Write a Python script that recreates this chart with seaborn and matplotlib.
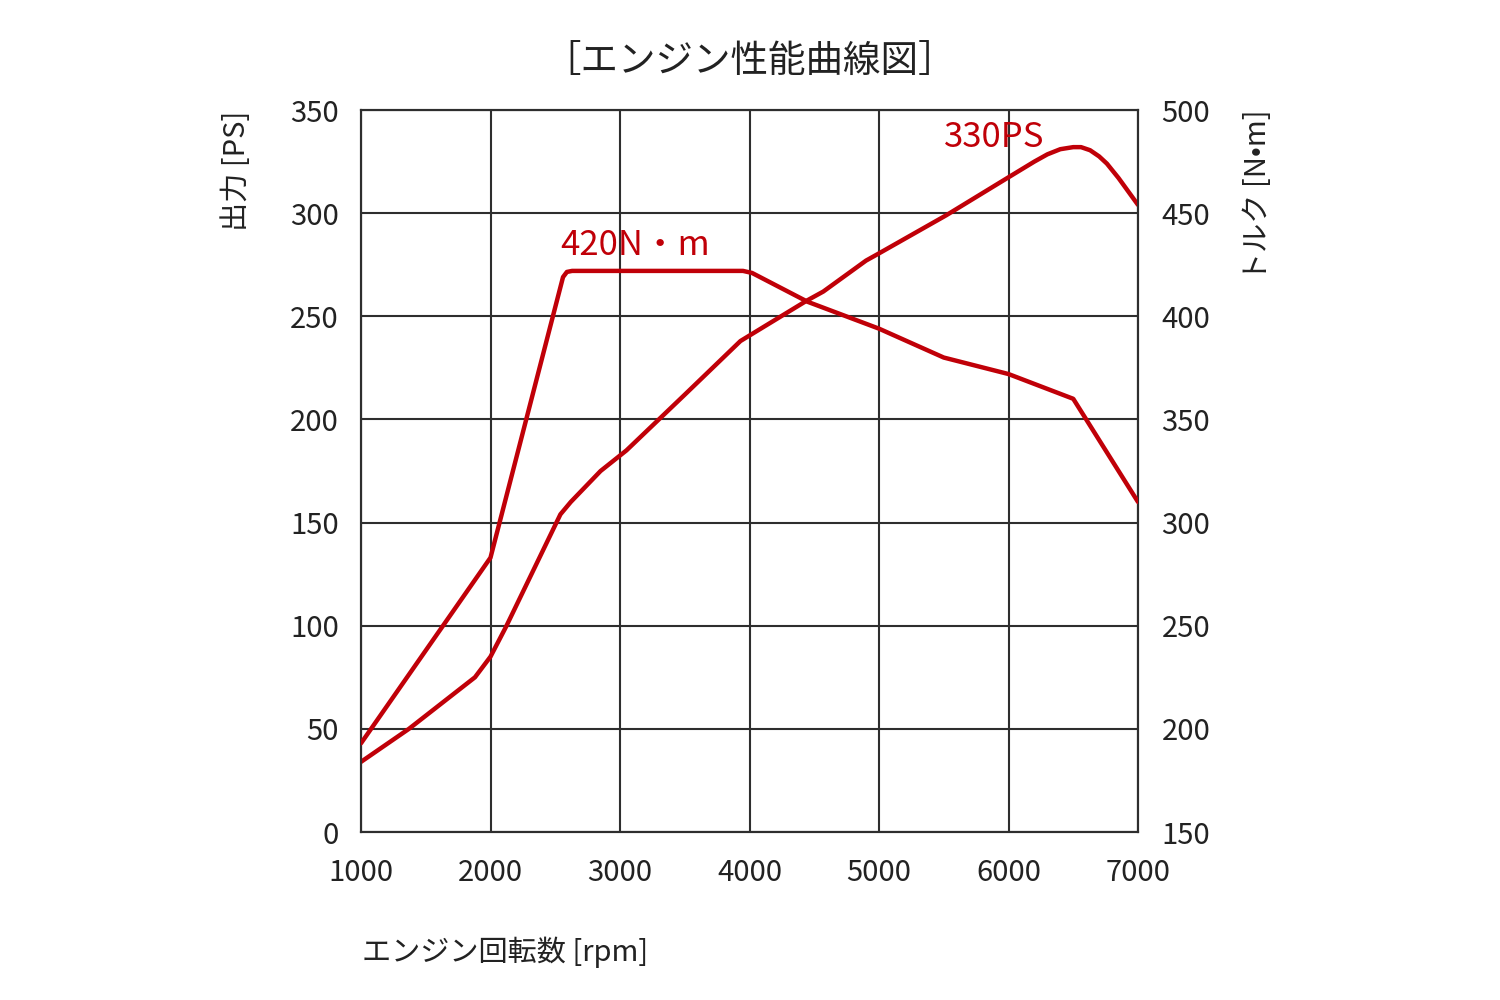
import matplotlib
matplotlib.use('Agg')
import numpy as np
import pandas as pd
import matplotlib.pyplot as plt
import seaborn as sns

# power curve [PS]
ps_rpm = [1000, 1370, 1880, 2000, 2120, 2540, 2620, 2850, 3050, 3500, 3930,
          4440, 4570, 4900, 5000, 5520, 5990, 6200, 6300, 6400, 6500, 6560,
          6630, 6700, 6760, 6850, 7000]
ps_val = [34, 50, 75, 85, 99.5, 154, 160, 175, 185, 212, 238,
          257.5, 262, 277, 280.5, 299, 317, 325, 328.5, 331, 332, 332,
          330.5, 327.5, 324, 317, 304]

# torque curve [N·m]
tq_rpm = [1000, 2000, 2560, 2590, 2630, 3950, 4020, 4450, 5000, 5500, 6000, 6500, 7000]
tq_val = [193, 283, 419, 421.5, 422, 422, 421, 407, 394, 380, 372, 360, 310]

x_ticks = [1000, 2000, 3000, 4000, 5000, 6000, 7000]
ps_ticks = [0, 50, 100, 150, 200, 250, 300, 350]
tq_ticks = [150, 200, 250, 300, 350, 400, 450, 500]

df_ps = pd.DataFrame({'rpm': ps_rpm, 'ps': ps_val})
df_tq = pd.DataFrame({'rpm': tq_rpm, 'tq': tq_val})

sns.set_style('white')
plt.rcParams['font.family'] = ['Noto Sans CJK JP', 'DejaVu Sans']

red = '#c00008'
grid_c = '#2e2e2e'
txt_c = '#222222'

fig = plt.figure(figsize=(15, 10), dpi=100)
ax = fig.add_axes([361/1500, 1-832/1000, (1138-361)/1500, (832-110)/1000])
ax2 = ax.twinx()

sns.lineplot(data=df_ps, x='rpm', y='ps', ax=ax, color=red, lw=3.2, zorder=5)
sns.lineplot(data=df_tq, x='rpm', y='tq', ax=ax2, color=red, lw=3.2, zorder=5)

ax.set_xlim(1000, 7000)
ax.set_ylim(0, 350)
ax2.set_ylim(150, 500)
ax.set_xticks(x_ticks)
ax.set_yticks(ps_ticks)
ax2.set_yticks(tq_ticks)
ax.grid(True, color=grid_c, lw=1.5)
ax.set_axisbelow(True)
for a in (ax, ax2):
    for s in a.spines.values():
        s.set_color(grid_c)
        s.set_linewidth(1.5)
    a.set_xlabel('')
    a.set_ylabel('')
ax.tick_params(axis='y', length=0, pad=16, labelsize=21, colors=txt_c)
ax.tick_params(axis='x', length=0, pad=19, labelsize=21, colors=txt_c)
ax2.tick_params(axis='y', length=0, pad=17, labelsize=21, colors=txt_c)

fig.text(0.5, 1-62/1000, '［エンジン性能曲線図］', ha='center', va='center',
         fontsize=27, color=txt_c)
fig.text(237/1500, 1-171/1000, '出力 [PS]', rotation=90, ha='center', va='center',
         fontsize=21, color=txt_c)
fig.text(1258/1500, 1-195/1000, 'トルク [N•m]', rotation=90, ha='center', va='center',
         fontsize=21, color=txt_c)
fig.text(362/1500, 1-952/1000, 'エンジン回転数 [rpm]', ha='left', va='center',
         fontsize=21, color=txt_c)

ax.text(2540, 284.5, '420N・m', ha='left', va='center', fontsize=25, color=red)
ax.text(5500, 336.5, '330PS', ha='left', va='center', fontsize=25, color=red)

fig.savefig('out.png', dpi=100, facecolor='white')
